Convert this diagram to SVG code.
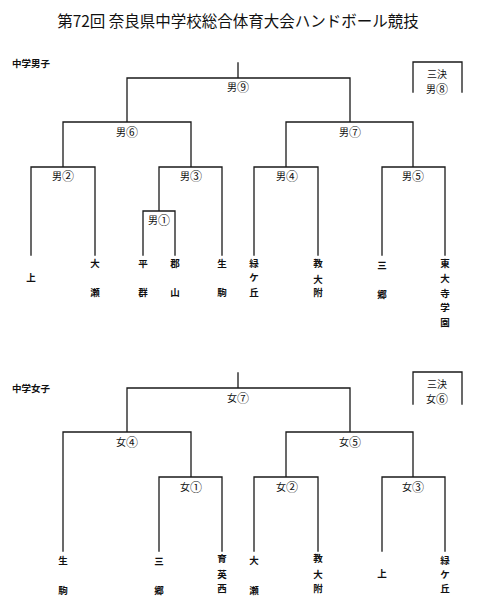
<svg xmlns="http://www.w3.org/2000/svg" width="480" height="611" viewBox="0 0 480 611">
<style>
text{font-family:"Noto Sans CJK JP","Noto Sans CJK SC",sans-serif;fill:#111;}
.title{font-size:15.5px;text-anchor:middle;}
.sec{font-size:9.5px;font-weight:bold;}
.m{font-size:10px;text-anchor:middle;dominant-baseline:central;}
.c{font-size:12px;}
.t{font-size:9.5px;font-weight:bold;text-anchor:middle;dominant-baseline:central;}
.ln{stroke:#1a1a1a;stroke-width:1.3;fill:none;stroke-linecap:square;}
</style>
<rect width="480" height="611" fill="#fff"/>
<text class="title" x="238" y="27">第72回 奈良県中学校総合体育大会ハンドボール競技</text>
<text class="sec" x="12" y="66.5">中学男子</text>
<text class="sec" x="12" y="391.5">中学女子</text>
<g id="connectors">
<path class="ln" d="M238,63V78M127,122V78H350V122M63,167V122H191V167M286,167V122H413V167M31,255V167H95V255M159,211V167H222V255M143,255V211H175V255M254,255V167H318V255M382,255V167H445V255"/>
<path class="ln" d="M413,92V62H462V92"/>
<path class="ln" d="M238,373V388M127,432V388H350V432M63,551V432H191V477M286,477V432H413V477M159,551V477H222V551M254,551V477H318V551M382,551V477H445V551"/>
<path class="ln" d="M413,404V372H462V404"/>
</g>
<g id="m9"><text class="m" x="238" y="86">男<tspan class="c">⑨</tspan></text></g>
<g id="m6"><text class="m" x="127" y="131">男<tspan class="c">⑥</tspan></text></g>
<g id="m7"><text class="m" x="350" y="131">男<tspan class="c">⑦</tspan></text></g>
<g id="m2"><text class="m" x="63" y="175">男<tspan class="c">②</tspan></text></g>
<g id="m3"><text class="m" x="191" y="175">男<tspan class="c">③</tspan></text></g>
<g id="m4"><text class="m" x="287" y="175">男<tspan class="c">④</tspan></text></g>
<g id="m5"><text class="m" x="413" y="175">男<tspan class="c">⑤</tspan></text></g>
<g id="m1"><text class="m" x="159" y="219">男<tspan class="c">①</tspan></text></g>
<g id="m8"><text class="m" x="437" y="73">三決</text><text class="m" x="437" y="88">男<tspan class="c">⑧</tspan></text></g>
<g id="mt1"><text class="t" x="31" y="277">上</text></g>
<g id="mt2"><text class="t"><tspan x="95" y="263">大</tspan><tspan x="95" y="292">瀬</tspan></text></g>
<g id="mt3"><text class="t"><tspan x="143" y="263">平</tspan><tspan x="143" y="292">群</tspan></text></g>
<g id="mt4"><text class="t"><tspan x="175" y="263">郡</tspan><tspan x="175" y="292">山</tspan></text></g>
<g id="mt5"><text class="t"><tspan x="222" y="263">生</tspan><tspan x="222" y="292">駒</tspan></text></g>
<g id="mt6"><text class="t"><tspan x="254" y="263">緑</tspan><tspan x="254" y="277">ケ</tspan><tspan x="254" y="292">丘</tspan></text></g>
<g id="mt7"><text class="t"><tspan x="318" y="263">教</tspan><tspan x="318" y="279">大</tspan><tspan x="318" y="292">附</tspan></text></g>
<g id="mt8"><text class="t"><tspan x="382" y="265">三</tspan><tspan x="382" y="294">郷</tspan></text></g>
<g id="mt9"><text class="t"><tspan x="445" y="263">東</tspan><tspan x="445" y="278">大</tspan><tspan x="445" y="293">寺</tspan><tspan x="445" y="307">学</tspan><tspan x="445" y="322">園</tspan></text></g>
<g id="w7"><text class="m" x="238" y="397">女<tspan class="c">⑦</tspan></text></g>
<g id="w4"><text class="m" x="127" y="441">女<tspan class="c">④</tspan></text></g>
<g id="w5"><text class="m" x="350" y="441">女<tspan class="c">⑤</tspan></text></g>
<g id="w1"><text class="m" x="191" y="486">女<tspan class="c">①</tspan></text></g>
<g id="w2"><text class="m" x="287" y="486">女<tspan class="c">②</tspan></text></g>
<g id="w3"><text class="m" x="413" y="486">女<tspan class="c">③</tspan></text></g>
<g id="w6"><text class="m" x="437" y="383">三決</text><text class="m" x="437" y="398">女<tspan class="c">⑥</tspan></text></g>
<g id="wt1"><text class="t"><tspan x="63" y="560">生</tspan><tspan x="63" y="590">駒</tspan></text></g>
<g id="wt2"><text class="t"><tspan x="159" y="561">三</tspan><tspan x="159" y="590">郷</tspan></text></g>
<g id="wt3"><text class="t"><tspan x="222" y="558">育</tspan><tspan x="222" y="574">英</tspan><tspan x="222" y="588">西</tspan></text></g>
<g id="wt4"><text class="t"><tspan x="254" y="560">大</tspan><tspan x="254" y="590">瀬</tspan></text></g>
<g id="wt5"><text class="t"><tspan x="318" y="558">教</tspan><tspan x="318" y="574">大</tspan><tspan x="318" y="588">附</tspan></text></g>
<g id="wt6"><text class="t" x="382" y="573">上</text></g>
<g id="wt7"><text class="t"><tspan x="445" y="560">緑</tspan><tspan x="445" y="574">ケ</tspan><tspan x="445" y="588">丘</tspan></text></g>
</svg>
